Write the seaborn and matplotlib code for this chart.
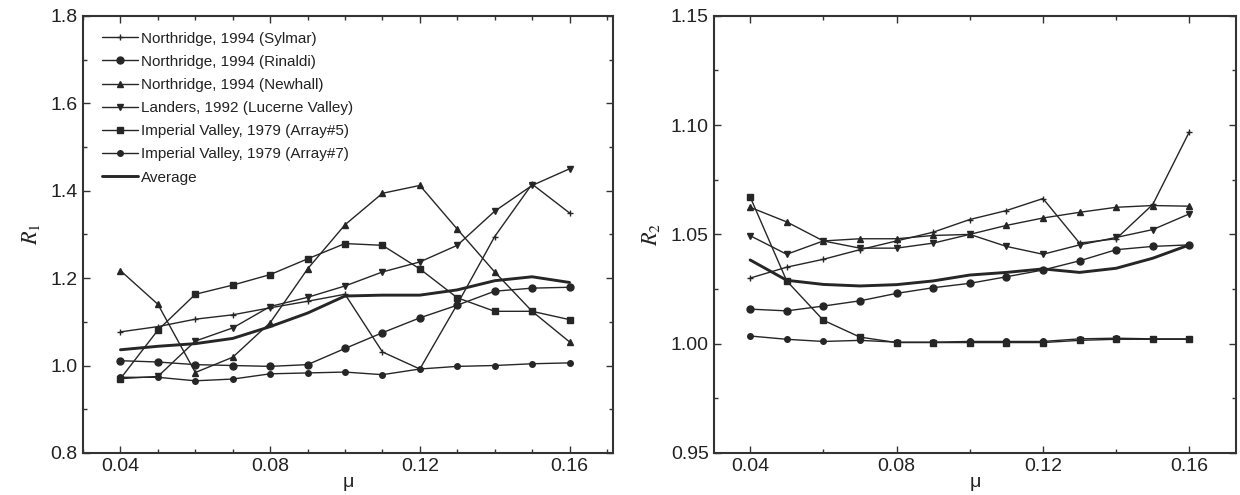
import numpy as np
import pandas as pd
import seaborn as sns
import matplotlib.pyplot as plt
from matplotlib.ticker import MultipleLocator

# friction coefficient values
mu = [0.04, 0.05, 0.06, 0.07, 0.08, 0.09, 0.10, 0.11, 0.12, 0.13, 0.14, 0.15, 0.16]

labels = ['Northridge, 1994 (Sylmar)', 'Northridge, 1994 (Rinaldi)',
          'Northridge, 1994 (Newhall)', 'Landers, 1992 (Lucerne Valley)',
          'Imperial Valley, 1979 (Array#5)', 'Imperial Valley, 1979 (Array#7)',
          'Average']

# R1 (left panel)
r1_sylmar = [1.077, 1.089, 1.106, 1.116, 1.132, 1.147, 1.163, 1.031, 0.992, 1.140, 1.295, 1.415, 1.349]
r1_rinaldi = [1.011, 1.008, 1.002, 1.000, 0.998, 1.002, 1.039, 1.075, 1.109, 1.138, 1.170, 1.177, 1.179]
r1_newhall = [1.217, 1.140, 0.984, 1.019, 1.098, 1.221, 1.322, 1.394, 1.412, 1.312, 1.214, 1.124, 1.054]
r1_lucerne = [0.970, 0.975, 1.056, 1.086, 1.135, 1.156, 1.182, 1.214, 1.237, 1.275, 1.353, 1.412, 1.450]
r1_array5 = [0.970, 1.081, 1.163, 1.184, 1.208, 1.244, 1.279, 1.275, 1.221, 1.155, 1.124, 1.124, 1.105]
r1_array7 = [0.973, 0.973, 0.965, 0.969, 0.981, 0.983, 0.985, 0.979, 0.992, 0.998, 1.000, 1.004, 1.006]
r1_average = [1.036, 1.044, 1.050, 1.062, 1.089, 1.120, 1.159, 1.161, 1.161, 1.173, 1.194, 1.203, 1.190]

# R2 (right panel)
r2_sylmar = [1.030, 1.035, 1.0386, 1.043, 1.047, 1.051, 1.0568, 1.0609, 1.0664, 1.046, 1.048, 1.0637, 1.097]
r2_rinaldi = [1.0158, 1.015, 1.0172, 1.0196, 1.023, 1.0256, 1.0276, 1.0306, 1.0337, 1.0379, 1.043, 1.0445, 1.0452]
r2_newhall = [1.0624, 1.0557, 1.047, 1.048, 1.048, 1.0495, 1.050, 1.0541, 1.0575, 1.0601, 1.0624, 1.0632, 1.0629]
r2_lucerne = [1.0494, 1.0409, 1.047, 1.0437, 1.0437, 1.046, 1.050, 1.0445, 1.0409, 1.0452, 1.0486, 1.0522, 1.0594]
r2_array5 = [1.0672, 1.0287, 1.0107, 1.003, 1.0005, 1.0005, 1.0005, 1.0005, 1.0005, 1.0015, 1.002, 1.002, 1.002]
r2_array7 = [1.0035, 1.002, 1.001, 1.0015, 1.0007, 1.0007, 1.001, 1.001, 1.001, 1.0022, 1.0025, 1.0022, 1.0022]
r2_average = [1.0383, 1.029, 1.0271, 1.0264, 1.027, 1.0287, 1.0314, 1.0326, 1.0342, 1.0326, 1.0345, 1.0391, 1.0452]

markers = ['+', 'o', '^', 'v', 's', 'o', None]
msizes = [5, 5, 5, 5, 4.5, 4, 0]
lwidths = [1.0, 1.0, 1.0, 1.0, 1.0, 1.0, 2.1]

sns.set_style('ticks')
plt.rcParams['font.family'] = ['Liberation Sans', 'DejaVu Sans']
plt.rcParams['mathtext.fontset'] = 'stix'

fig = plt.figure(figsize=(12.4, 4.95), dpi=100)
ax1 = fig.add_axes([0.067, 0.085, 0.427, 0.883])
ax2 = fig.add_axes([0.576, 0.085, 0.421, 0.883])

color = '#262626'


def draw(ax, series, show_legend):
    for i, vals in enumerate(series):
        df = pd.DataFrame({'mu': mu, 'R': vals})
        kw = dict(x='mu', y='R', data=df, ax=ax, color=color, lw=lwidths[i],
                  label=labels[i] if show_legend else None, legend=False)
        if markers[i] is not None:
            kw.update(marker=markers[i], markersize=msizes[i],
                      markeredgecolor=color, markerfacecolor=color,
                      markeredgewidth=1.0)
        sns.lineplot(**kw)


draw(ax1, [r1_sylmar, r1_rinaldi, r1_newhall, r1_lucerne, r1_array5, r1_array7, r1_average], True)
draw(ax2, [r2_sylmar, r2_rinaldi, r2_newhall, r2_lucerne, r2_array5, r2_array7, r2_average], False)

ax1.set_xlim(0.030, 0.1715)
ax1.set_ylim(0.8, 1.8)
ax1.yaxis.set_major_locator(MultipleLocator(0.2))
ax1.yaxis.set_minor_locator(MultipleLocator(0.1))
ax1.xaxis.set_minor_locator(MultipleLocator(0.01))
ax1.set_yticklabels([f'{v:.1f}' for v in ax1.get_yticks()])

ax2.set_xlim(0.0302, 0.1728)
ax2.set_ylim(0.95, 1.15)
ax2.yaxis.set_major_locator(MultipleLocator(0.05))
ax2.yaxis.set_minor_locator(MultipleLocator(0.025))
ax2.xaxis.set_minor_locator(MultipleLocator(0.02))
ax2.set_yticklabels([f'{v:.2f}' for v in ax2.get_yticks()])

for ax in (ax1, ax2):
    ax.xaxis.set_major_locator(MultipleLocator(0.04))
    ax.set_xticklabels([f'{v:.2f}' for v in ax.get_xticks()])
    ax.tick_params(which='both', direction='in', top=True, right=True,
                   color='#333333', labelsize=14, labelcolor='#222222', pad=4)
    ax.tick_params(which='major', length=5, width=1.0)
    ax.tick_params(which='minor', length=3, width=1.0)
    for sp in ax.spines.values():
        sp.set_linewidth(1.5)
        sp.set_color('#333333')
    ax.set_xlabel('μ', fontsize=14, labelpad=-1, color='#222222')

ax1.set_ylabel(r'$R_1$', fontsize=16, labelpad=6, color='#222222')
ax2.set_ylabel(r'$R_2$', fontsize=16, labelpad=6, color='#222222')

leg = ax1.legend(loc='upper left', bbox_to_anchor=(0.018, 0.985), frameon=False,
                 fontsize=11, handlelength=2.4, handletextpad=0.15,
                 labelspacing=0.6, borderaxespad=0.2)
for t in leg.get_texts():
    t.set_color('#222222')

fig.savefig('out.png', dpi=100)
